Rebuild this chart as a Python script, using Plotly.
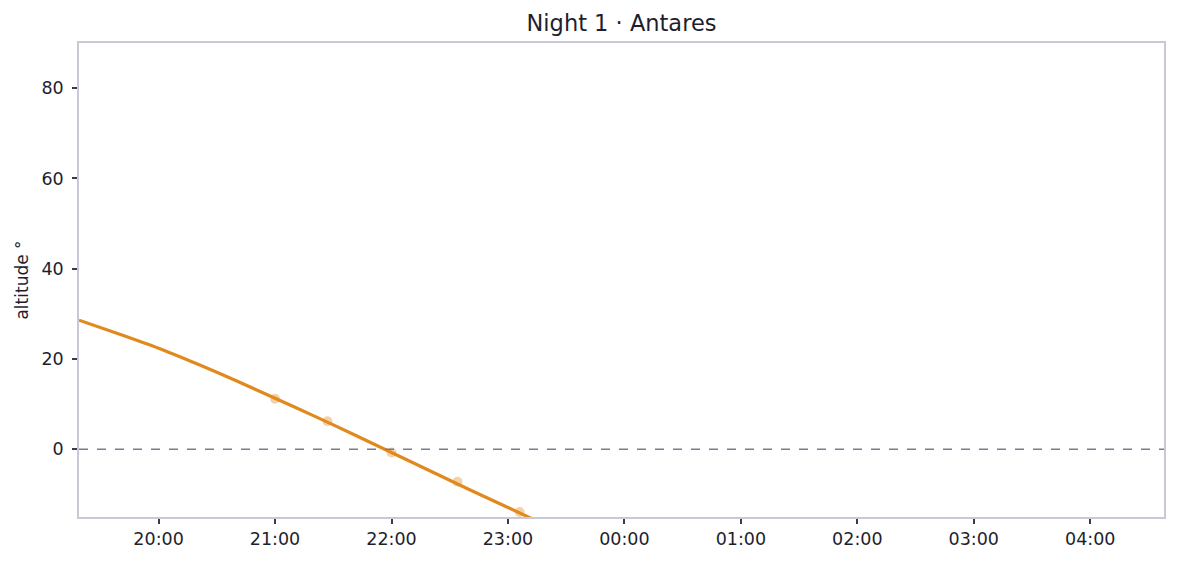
import plotly.graph_objects as go

title = "Night 1 · Antares"
y_label = "altitude °"

# Altitude curve (degrees) vs local time
line_times = [
    "2024-01-01 19:19", "2024-01-01 19:40", "2024-01-01 20:00", "2024-01-01 20:20",
    "2024-01-01 20:40", "2024-01-01 21:00", "2024-01-01 21:20", "2024-01-01 21:40",
    "2024-01-01 22:00", "2024-01-01 22:20", "2024-01-01 22:40", "2024-01-01 23:00",
    "2024-01-01 23:20",
]
line_alt = [28.6, 25.5, 22.4, 18.9, 15.2, 11.3, 7.4, 3.4, -0.7, -4.8, -8.9, -12.9, -16.9]

# Sampled observation points
obs_times = ["2024-01-01 21:00", "2024-01-01 21:27", "2024-01-01 22:00",
             "2024-01-01 22:34", "2024-01-01 23:06"]
obs_alt = [11.2, 6.2, -0.7, -7.2, -13.9]

x_range = ["2024-01-01 19:19", "2024-01-02 04:38"]
y_range = [-15, 90]
y_ticks = [0, 20, 40, 60, 80]

orange = "#E08A1E"
font_family = "DejaVu Sans"
text_color = "#1e1e2e"

fig = go.Figure()
fig.add_trace(go.Scatter(
    x=obs_times, y=obs_alt, mode="markers",
    marker=dict(color=orange, size=10, opacity=0.38),
    showlegend=False, hoverinfo="skip"))
fig.add_trace(go.Scatter(
    x=line_times, y=line_alt, mode="lines", line_shape="spline",
    line=dict(color=orange, width=3.2, smoothing=0.5), showlegend=False))

fig.add_hline(y=0, line=dict(color="#7a7a96", width=1.4, dash="dash"))

axis_common = dict(
    showline=True, linecolor="#c8c8d6", linewidth=1.5, mirror=True,
    showgrid=False, zeroline=False,
    ticks="outside", ticklen=5, tickwidth=1.5, tickcolor="#3a3a4a",
    tickfont=dict(family=font_family, size=17.5, color=text_color),
)

fig.update_layout(
    width=1169, height=556,
    margin=dict(l=71, r=13, t=35, b=47),
    paper_bgcolor="white", plot_bgcolor="white",
    title=dict(text=title, xref="paper", x=0.5, xanchor="center",
               y=0.973, yanchor="middle",
               font=dict(family=font_family, size=22.5, color=text_color)),
    xaxis=dict(range=x_range, type="date", tickformat="%H:%M", dtick=3600000,
               tick0="2024-01-01 20:00", **axis_common),
    yaxis=dict(range=y_range, tickvals=y_ticks, ticklabelstandoff=5,
               title=dict(text=y_label, standoff=9,
                          font=dict(family=font_family, size=17, color=text_color)),
               **axis_common),
)

fig.write_html("out.html")
